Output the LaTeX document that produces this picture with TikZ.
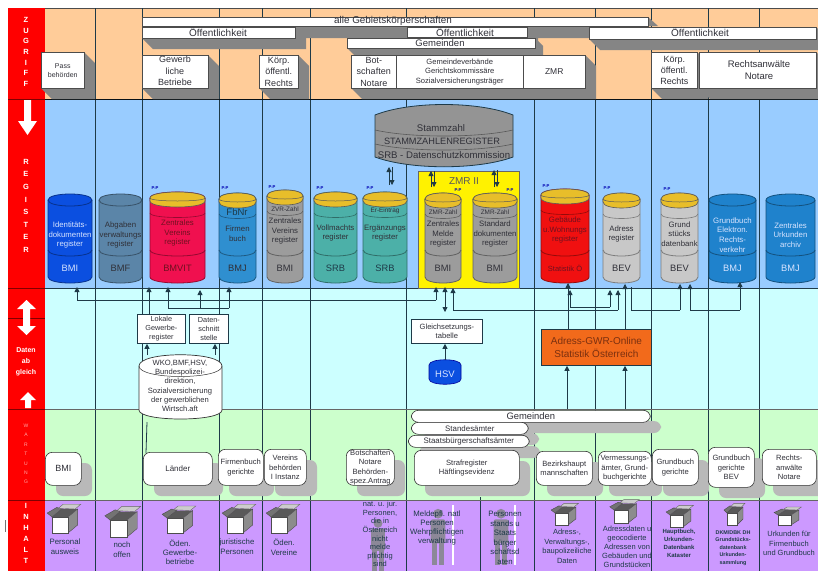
\documentclass[tikz,border=0pt]{standalone}
\usepackage{fontspec}
\setmainfont{Liberation Sans}
\usetikzlibrary{arrows.meta,shadows}
\definecolor{band1}{HTML}{FFCC99}
\definecolor{band2}{HTML}{99CCFF}
\definecolor{band3}{HTML}{CCFFFF}
\definecolor{band4}{HTML}{CCFFCC}
\definecolor{band5}{HTML}{CC99FF}
\definecolor{txt}{HTML}{303038}
\definecolor{ln}{HTML}{1E3A48}
\definecolor{gold}{HTML}{E8BE2A}
\definecolor{shad}{HTML}{B9B9B9}
\definecolor{ext}{HTML}{858585}
\definecolor{cblue}{HTML}{0B4FE0}
\definecolor{cslate}{HTML}{5B85A8}
\definecolor{ccrim}{HTML}{F0104F}
\definecolor{csky}{HTML}{2F8FD0}
\definecolor{cgrey}{HTML}{9C9C9C}
\definecolor{cteal}{HTML}{4CB0A8}
\definecolor{cred}{HTML}{F01010}
\definecolor{clight}{HTML}{C8C8C8}
\definecolor{cbj}{HTML}{1F82CC}
\definecolor{lighttxt}{HTML}{D8E4FF}
\definecolor{redtxt}{HTML}{701020}
\definecolor{orbox}{HTML}{F26A1B}
\definecolor{ortxt}{HTML}{7A3010}
\definecolor{figgrey}{HTML}{8C8898}
\newcommand{\fz}[1]{\fontsize{#1}{\fpeval{1.25*#1}}\selectfont}
\tikzset{
  fs/.style={font=\fz{#1}},
  lbl/.style={text=txt,align=center,inner sep=0pt,fs=6.2},
  colline/.style={draw=ln,line width=.8pt},
  conn/.style={draw=ln,line width=.8pt},
  arr/.style={conn,-{Triangle[length=5pt,width=5pt]}},
  darr/.style={conn,{Triangle[length=5pt,width=5pt]}-{Triangle[length=5pt,width=5pt]}},
  side/.style={text=white,align=center,inner sep=0pt,font=\fontsize{7.5}{12.6}\selectfont\bfseries},
  pp/.style={text=blue!70!black,inner sep=0pt,font=\fontsize{4.2}{5}\selectfont\bfseries},
  whitearrow/.style={fill=white,draw=none},
  plainbox/.style={draw=ln,line width=.8pt,fill=white,align=center,inner sep=0pt,text=txt,fs=7.3},
}
% raised white box with grey extrusion
\newcommand{\ebox}[7][11]{%
  \fill[ext] (#3,#6) -- (#5,#6) -- (#5,#4) -- ({#5+#1},{#4+#1}) -- ({#5+#1},{#6+#1}) -- ({#3+#1},{#6+#1}) -- cycle;
  \node[draw=black!70,line width=.5pt,fill=white,anchor=north west,minimum width={(#5-#3)*1pt},minimum height={(#6-#4)*1pt},inner sep=0pt,align=center,text=txt,font=#7] (#2) at (#3,#4) {};
}
% rounded white box with shadow
\newcommand{\rb}[6]{%
  \fill[shad,rounded corners=7pt] ({#2+11},{#3+11}) rectangle ({#4+11},{#5+11});
  \node[draw=black!80,line width=.6pt,fill=white,rounded corners=7pt,anchor=north west,minimum width={(#4-#2)*1pt},minimum height={(#5-#3)*1pt},inner sep=0pt,align=center,text=txt,font=\fontsize{7.6}{9.5}\selectfont] (#1) at (#2,#3) {#6};
}
% cylinder
\newcommand{\cyl}[9]{% name x0 x1 ytop ybot fill textcolour size text
  \pgfmathsetmacro{\cxa}{#2}\pgfmathsetmacro{\cxb}{#3}\pgfmathsetmacro{\cya}{#4}\pgfmathsetmacro{\cyb}{#5}
  \pgfmathsetmacro{\cxm}{(#2+#3)/2}
  \def\cfill{#6}
  \filldraw[fill=#6,draw=#6!62!black,line width=.8pt] (\cxa,\cya+6) .. controls (\cxa,\cya-2) and (\cxb,\cya-2) .. (\cxb,\cya+6) -- (\cxb,\cyb-6) .. controls (\cxb,\cyb+2) and (\cxa,\cyb+2) .. (\cxa,\cyb-6) -- cycle;
  \draw[draw=#6!62!black,line width=.8pt] (\cxa,\cya+6) .. controls (\cxa,\cya+14) and (\cxb,\cya+14) .. (\cxb,\cya+6);
  \draw[draw=#6!62!black,line width=.8pt] (\cxa,\cyb-33) .. controls (\cxa,\cyb-25) and (\cxb,\cyb-25) .. (\cxb,\cyb-33);
  \node[text=#7,align=center,inner sep=0pt,fs=#8] (#1) at (\cxm,\cya+41) {#9};
}
\newcommand{\org}[4][9.3]{\node[text=#3,inner sep=0pt,fs=#1] (#2) at (\cxm,\cyb-15) {#4};}
\newcommand{\capit}[1]{%
  \filldraw[fill=gold,draw=black!65,line width=.6pt] (\cxa,\cya+6) .. controls (\cxa,\cya-2) and (\cxb,\cya-2) .. (\cxb,\cya+6) -- (\cxb,\cya+9) .. controls (\cxb,\cya+17) and (\cxa,\cya+17) .. (\cxa,\cya+9) -- cycle;
  \draw[draw=black!65,line width=.5pt] (\cxa,\cya+6) .. controls (\cxa,\cya+10) and (\cxb,\cya+10) .. (\cxb,\cya+6);
  \draw[draw=\cfill!62!black,line width=.6pt] (\cxa,\cya+21) .. controls (\cxa,\cya+27) and (\cxb,\cya+27) .. (\cxb,\cya+21);
  \node[text=txt,inner sep=0pt,fs=6.4] at (\cxm,\cya+19) {#1};
}
% open box icon
\newcommand{\kiste}[4]{%
  \fill[black!65] (#1,#2) -- ({#1+#3},#2) -- ({#1+1.6*#3},{#2-.5*#4}) -- ({#1+.6*#3},{#2-.5*#4}) -- cycle;
  \filldraw[fill=black!45,draw=black!70,line width=.4pt] ({#1+#3},#2) -- ({#1+#3},{#2+#4}) -- ({#1+1.6*#3},{#2+.5*#4}) -- ({#1+1.6*#3},{#2-.5*#4}) -- cycle;
  \filldraw[fill=black!55,draw=black!70,line width=.4pt] (#1,#2) -- ({#1-.3*#3},{#2-.25*#4}) -- ({#1+.3*#3},{#2-.6*#4}) -- ({#1+.6*#3},{#2-.5*#4}) -- cycle;
  \filldraw[fill=black!20,draw=black!60,line width=.4pt] ({#1+.4*#3},{#2-.55*#4}) -- ({#1+.7*#3},{#2-.8*#4}) -- ({#1+1.8*#3},{#2-.8*#4}) -- ({#1+1.45*#3},{#2-.5*#4}) -- cycle;
  \filldraw[fill=white,draw=black!70,line width=.5pt] (#1,#2) rectangle ({#1+#3},{#2+#4});
}
% grey figure
\newcommand{\figur}[3]{%
  \fill[figgrey] (#1,{#2+.1*#3}) circle ({.085*#3});
  \fill[figgrey,rounded corners=2pt] ({#1-.13*#3},{#2+.2*#3}) rectangle ({#1+.13*#3},{#2+.62*#3});
  \fill[figgrey] ({#1-.11*#3},{#2+.6*#3}) rectangle ({#1-.015*#3},{#2+#3});
  \fill[figgrey] ({#1+.015*#3},{#2+.6*#3}) rectangle ({#1+.11*#3},{#2+#3});
}
\begin{document}
\begin{tikzpicture}[x=1pt,y=-1pt]
\useasboundingbox (0,0) rectangle (818,571);
\fill[white] (0,0) rectangle (818,571);
% bands
\fill[band1] (45,8) rectangle (818,99);
\fill[band2] (45,99) rectangle (818,288);
\fill[band3] (45,288) rectangle (818,409);
\fill[band4] (45,409) rectangle (818,500);
\fill[band5] (45,500) rectangle (818,571);
\draw[black!70,line width=.7pt] (45,8) -- (818,8);
% columns
\draw[colline] (95,8) -- (95,571);
\draw[colline] (142,8) -- (142,571);
\draw[colline] (219,8) -- (219,571);
\draw[colline] (262,8) -- (262,571);
\draw[colline] (310,8) -- (310,571);
\draw[colline] (406,8) -- (406,571);
\draw[colline] (534,8) -- (534,571);
\draw[colline] (595,8) -- (595,571);
\draw[colline] (651,8) -- (651,571);
\draw[colline] (708,8) -- (708,571);
\draw[colline] (759,8) -- (759,571);
\draw[colline] (480,497) -- (480,571);
% band dividers
\draw[black!70!ln,line width=.8pt] (45,99) -- (818,99);
\draw[ln,line width=.9pt] (45,288) -- (818,288);
\draw[black!60,line width=.8pt] (45,409) -- (818,409);
\draw[black!60,line width=.8pt] (45,500) -- (818,500);
% red side bar
\fill[red] (8,8) rectangle (45,571);
\draw[black!50!red,line width=.6pt] (8,99) -- (45,99) (8,288) -- (45,288) (8,318) -- (45,318) (8,409) -- (45,409) (8,500) -- (45,500);
\node[side,anchor=north,font=\fontsize{7.5}{10.7}\selectfont\bfseries] (sz) at (26,17) {Z\\U\\G\\R\\I\\F\\F};
\node[side,anchor=north] (sr) at (26,159) {R\\E\\G\\I\\S\\T\\E\\R};
\node[align=center,text=white,inner sep=0pt,font=\fontsize{7}{11}\selectfont\bfseries] (sd) at (26,362) {Daten\\ab\\gleich};
\node[align=center,text=red!35!white,inner sep=0pt,font=\fontsize{5}{9.4}\selectfont] (sw) at (26,454) {W\\A\\R\\T\\U\\N\\G};
\node[side,anchor=north,font=\fontsize{7.5}{11}\selectfont\bfseries] (si) at (26,503) {I\\N\\H\\A\\L\\T};
\fill[whitearrow] (24,100) -- (31,100) -- (31,121) -- (37,121) -- (27.5,135) -- (18,121) -- (24,121) -- cycle;
\fill[whitearrow] (26.5,300) -- (36,309) -- (30,309) -- (30,326) -- (36,326) -- (26.5,335) -- (17,326) -- (23,326) -- (23,309) -- (17,309) -- cycle;
\fill[whitearrow] (28,392) -- (36,400) -- (31,400) -- (31,408) -- (25,408) -- (25,400) -- (20,400) -- cycle;
\draw[black!55,line width=1pt] (5,520) -- (5,532);
% top band boxes
\fill[ext] (648,17) -- (658,26) -- (590,26) -- (590,38) -- (295,38) -- (295,26) -- (648,26) -- cycle;
\ebox[11]{bOeffA}{142}{27}{295}{38}{\fontsize{8.5}{10}\selectfont}
\ebox[11]{bOeffC}{589}{27}{816}{39}{\fontsize{8.5}{10}\selectfont}
\ebox[11]{bOeffB}{407}{27}{527}{37}{\fontsize{8.5}{10}\selectfont}
\ebox[8]{bGem}{347}{38}{535}{48}{\fontsize{8.5}{10}\selectfont}
\node[draw=black!70,line width=.5pt,fill=white,anchor=north west,minimum width=506pt,minimum height=9pt,inner sep=0pt] (bAlle) at (142,17) {};
\node[text=txt,inner sep=0pt,fs=9.9] (tAlle) at (393,20.5) {alle Gebietskörperschaften};
\node[text=txt,inner sep=0pt,fs=10] (tOa) at (218,32.5) {Öffentlichkeit};
\node[text=txt,inner sep=0pt,fs=10] (tOb) at (465,32.5) {Öffentlichkeit};
\node[text=txt,inner sep=0pt,fs=10] (tOc) at (700,32.5) {Öffentlichkeit};
\node[text=txt,inner sep=0pt,fs=9.5] (tGem) at (440,43) {Gemeinden};
\ebox[11]{bPass}{41}{52}{84}{88}{\fontsize{6}{9}\selectfont}
\ebox[11]{bGew}{142}{55}{208}{88}{\fontsize{7.5}{10}\selectfont}
\ebox[11]{bKa}{259}{55}{298}{88}{\fontsize{7.5}{10}\selectfont}
\ebox[11]{bBot}{351}{55}{396}{88}{\fontsize{7.5}{10}\selectfont}
\ebox[11]{bGv}{396}{55}{523}{88}{\fontsize{6}{8}\selectfont}
\ebox[11]{bZmr}{523}{55}{585}{88}{\fontsize{7.5}{10}\selectfont}
\ebox[11]{bKb}{651}{52}{697}{88}{\fontsize{7.5}{10}\selectfont}
\ebox[11]{bRa}{699}{52}{816}{88}{\fontsize{7.5}{10}\selectfont}
\node[lbl,fs=7] (tPass) at (bPass) {Pass\\behörden};
\node[lbl,fs=9] (tGew) at (175,71) {Gewerb\\liche\\Betriebe};
\node[lbl,fs=9] (tKa) at (bKa) {Körp.\\öffentl.\\Rechts};
\node[lbl,fs=9] (tBot) at (bBot) {Bot-\\schaften\\Notare};
\node[lbl,fs=7.6] (tGv) at (bGv) {Gemeindeverbände\\Gerichtskommissäre\\Sozialversicherungsträger};
\node[lbl,fs=8.5] (tZmr) at (bZmr) {ZMR};
\node[lbl,fs=9] (tKb) at (bKb) {Körp.\\öffentl.\\Rechts};
\node[lbl,fs=9.5] (tRa) at (759,70) {Rechtsanwälte\\Notare};
% yellow ZMR II area
\node[draw=black!60,line width=.7pt,fill=yellow,anchor=north west,minimum width=101pt,minimum height=117pt,inner sep=0pt] (zmrii) at (418,171) {};
\node[text=black!65,inner sep=0pt,fs=10] (tZmrii) at (464,181) {ZMR II};
% Stammzahl register
\filldraw[fill=black!42,draw=ln,line width=.8pt] (375,115) .. controls (410,101) and (478,101) .. (513,115) -- (513,157) .. controls (478,170) and (410,170) .. (375,157) -- cycle;
\draw[black!65,line width=.6pt] (375,130) .. controls (410,138) and (478,138) .. (513,130);
\draw[black!65,line width=.6pt] (375,144) .. controls (410,152) and (478,152) .. (513,144);
\node[text=txt,inner sep=0pt,fs=9.6] (tS1) at (441,128) {Stammzahl};
\node[text=txt,inner sep=0pt,fs=9.2] (tS2) at (442,141) {STAMMZAHLENREGISTER};
\node[text=txt,inner sep=0pt,fs=9.6] (tS3) at (444,155) {SRB - Datenschutzkommission};
% cylinders
\cyl{c1}{48}{92}{194}{283}{cblue}{lighttxt}{7.8}{Identitäts-\\dokumenten\\register}
\org{o1}{lighttxt}{BMI}
\cyl{c2}{99}{142}{194}{283}{cslate}{txt}{7.8}{Abgaben\\verwaltungs\\register}
\org{o2}{txt}{BMF}
\cyl{c3}{150}{205}{192}{283}{ccrim}{redtxt}{7.8}{Zentrales\\Vereins\\register}
\org{o3}{redtxt}{BMVIT}
\capit{}
\cyl{c4}{219}{256}{193}{283}{csky}{txt}{7.8}{Firmen\\buch}
\org{o4}{txt}{BMJ}
\capit{}
\node[text=ln,inner sep=0pt,fs=9.5] (tFb) at (237,212) {FbNr};
\cyl{c5}{267}{303}{190}{283}{cgrey}{txt}{7.8}{Zentrales\\Vereins\\register}
\org{o5}{txt}{BMI}
\capit{ZVR-Zahl}
\cyl{c6}{314}{357}{192}{283}{cteal}{txt}{7.8}{Vollmachts\\register}
\org{o6}{ln}{SRB}
\capit{}
\cyl{c7}{363}{407}{192}{283}{cteal}{txt}{7.8}{Ergänzungs\\register}
\org{o7}{ln}{SRB}
\capit{Er-Eintrag}
\cyl{c8}{425}{461}{193}{283}{cgrey}{txt}{7.8}{Zentrales\\Melde\\register}
\org{o8}{txt}{BMI}
\capit{ZMR-Zahl}
\cyl{c9}{473}{517}{193}{283}{cgrey}{txt}{7.8}{Standard\\dokumenten\\register}
\org{o9}{txt}{BMI}
\capit{ZMR-Zahl}
\cyl{c10}{541}{589}{189}{283}{cred}{redtxt}{7.8}{Gebäude\\u.Wohnungs\\register}
\org[7.5]{o10}{redtxt}{Statistik Ö}
\capit{}
\cyl{c11}{603}{640}{193}{283}{clight}{txt}{7.8}{Adress\\register}
\org{o11}{txt}{BEV}
\capit{}
\cyl{c12}{661}{698}{193}{283}{clight}{txt}{7.8}{Grund\\stücks\\datenbank}
\org{o12}{txt}{BEV}
\capit{}
\cyl{c13}{709}{756}{194}{283}{cbj}{lighttxt}{7.8}{Grundbuch\\Elektron.\\Rechts-\\verkehr}
\org{o13}{lighttxt}{BMJ}
\cyl{c14}{766}{815}{194}{283}{cbj}{lighttxt}{7.8}{Zentrales\\Urkunden\\archiv}
\org{o14}{lighttxt}{BMJ}
% P:P labels
\node[pp] (p1) at (155,188) {P:P};
\node[pp] (p2) at (225,188) {P:P};
\node[pp] (p3) at (272,187) {P:P};
\node[pp] (p4) at (320,188) {P:P};
\node[pp] (p5) at (370,188) {P:P};
\node[pp] (p6) at (458,190) {P:P};
\node[pp] (p7) at (510,190) {P:P};
\node[pp] (p8) at (546,186) {P:P};
\node[pp] (p9) at (607,188) {P:P};
\node[pp] (p10) at (667,189) {P:P};
% connector anchors
\coordinate (h1a) at (77,300); \coordinate (h1b) at (436,300);
\coordinate (t1) at (77,287); \coordinate (t2) at (436,287);
\coordinate (t3) at (200,290);
\coordinate (t4) at (168,287); \coordinate (t5) at (229,287);
\coordinate (j4) at (168,308); \coordinate (j5) at (229,308); \coordinate (j6) at (200,308);
\coordinate (t6) at (149,287);
\coordinate (g1) at (453,288); \coordinate (g2) at (453,310); \coordinate (g3) at (618,310); \coordinate (g4) at (618,290);
\coordinate (s1) at (570,290); \coordinate (s2) at (570,307); \coordinate (s3) at (610,307); \coordinate (s4) at (610,290);
\coordinate (u1) at (631,287); \coordinate (u2) at (631,310); \coordinate (u3) at (680,310); \coordinate (u4) at (680,284);
\coordinate (w1) at (690,284); \coordinate (w2) at (690,310); \coordinate (w3) at (740,310); \coordinate (w4) at (740,282);
\coordinate (r1) at (568,283); \coordinate (r2) at (625,284);
\coordinate (d1a) at (389,167); \coordinate (d1b) at (389,185);
\coordinate (d2a) at (431,171); \coordinate (d2b) at (431,187);
\coordinate (d3a) at (494,170); \coordinate (d3b) at (494,187);
\coordinate (q1) at (445,287); \coordinate (q2) at (445,312);
% boxes of the cyan band
\node[plainbox,anchor=north west,minimum width=48pt,minimum height=29pt] (lok) at (137,314) {Lokale\\Gewerbe-\\register};
\node[plainbox,anchor=north west,minimum width=39pt,minimum height=29pt] (dat) at (189,314) {Daten-\\schnitt\\stelle};
\node[plainbox,anchor=north west,minimum width=71pt,minimum height=24pt,fs=7.6] (gl) at (411,319) {Gleichsetzungs-\\tabelle};
\node[draw=ln,line width=.8pt,fill=orbox,anchor=north west,minimum width=110pt,minimum height=36pt,inner sep=0pt,align=center,text=ortxt,fs=10] (gwr) at (541,329) {Adress-GWR-Online\\Statistik Österreich};
% HSV
\filldraw[fill=cblue,draw=blue!60!black,line width=.6pt] (429,365) .. controls (429,358) and (461,358) .. (461,365) -- (461,379) .. controls (461,386) and (429,386) .. (429,379) -- cycle;
\node[text=lighttxt,inner sep=0pt,fs=9.5] (hsv) at (445,374) {HSV};
\coordinate (hsvt) at (445,360);
% connectors
\draw[conn] (h1a) -- (h1b);
\draw[arr] (h1a) -- (t1);
\draw[arr] (h1b) -- (t2);
\draw[arr] (j6) -- (t3);
\draw[arr] (j4) -- (t4);
\draw[conn] (j4) -- (j5);
\draw[arr] (j5) -- (t5);
\draw[arr] (lok.north -| t6) -- (t6);
\draw[darr] (q1) -- (q2);
\draw[arr] (hsvt) -- (gl.south -| hsvt);
\draw[arr] (g2) -- (g1);
\draw[conn] (g2) -- (g3);
\draw[arr] (g3) -- (g4);
\draw[arr] (s2) -- (s1);
\draw[conn] (s2) -- (s3);
\draw[arr] (s3) -- (s4);
\draw[arr] (gwr.north -| r1) -- (r1);
\draw[arr] (gwr.north -| r2) -- (r2);
\draw[conn] (u1) -- (u2);
\draw[conn] (u2) -- (u3);
\draw[arr] (u3) -- (u4);
\draw[arr] (w2) -- (w1);
\draw[conn] (w2) -- (w3);
\draw[arr] (w3) -- (w4);
% double arrows near Stammzahl
\draw[arr] (d1b) -- (d1a);
\draw[arr] ([xshift=3pt]d1a) -- ([xshift=3pt]d1b);
\draw[arr] (d2b) -- (d2a);
\draw[arr] ([xshift=3pt]d2a) -- ([xshift=3pt]d2b);
\draw[arr] (d3b) -- (d3a);
\draw[arr] ([xshift=3pt]d3a) -- ([xshift=3pt]d3b);
% register base cylinder (white)
\filldraw[fill=white,draw=black!80,line width=.7pt] (139,366) .. controls (139,351) and (222,351) .. (222,366) -- (222,410) .. controls (222,422) and (139,422) .. (139,410) -- cycle;
\draw[black!80,line width=.5pt] (139,366) .. controls (139,380) and (222,380) .. (222,366);
\node[lbl,font=\fontsize{7.6}{9.3}\selectfont] (wko) at (180,386) {WKO,BMF,HSV,\\Bundespolizei-\\direktion,\\Sozialversicherung\\der gewerblichen\\Wirtsch.aft};
% lines from Laender and Gemeinden
\coordinate (l1) at (147,355); \coordinate (l2) at (215,355); \coordinate (l3) at (147,422); \coordinate (l4) at (146,453);
\draw[arr] (l1) -- (lok.south -| l1);
\draw[arr] (l2) -- (dat.south -| l2);
\draw[conn] (l3) -- (l4);
% lines from green band to Adress-GWR
\coordinate (a1) at (567,409); \coordinate (a2) at (625,409);
\draw[arr] (a1) -- (gwr.south -| a1);
\draw[arr] (a2) -- (gwr.south -| a2);
% green band rounded boxes (drawn back to front)
\rb{rGem}{411}{410}{650}{422}{\fontsize{9.4}{10}\selectfont Gemeinden}
\rb{rSta}{411}{422}{528}{434}{\fontsize{7.9}{9}\selectfont Standesämter}
\rb{rStb}{408}{435}{529}{447}{\fontsize{7.9}{9}\selectfont Staatsbürgerschaftsämter}
\rb{rStr}{414}{450}{519}{485}{Strafregister\\Häftlingsevidenz}
\rb{rBmi}{45}{452}{81}{485}{\fontsize{9}{10}\selectfont BMI}
\rb{rLae}{143}{452}{212}{485}{\fontsize{8}{10}\selectfont Länder}
\rb{rFir}{218}{449}{263}{485}{Firmenbuch\\gerichte}
\rb{rVer}{264}{449}{306}{485}{Vereins\\behörden\\I Instanz}
\rb{rBot}{346}{449}{394}{485}{Botschaften\\Notare\\Behörden-\\spez.Antrag}
\rb{rBez}{536}{451}{592}{485}{Bezirkshaupt\\mannschaften}
\rb{rVm}{598}{451}{651}{485}{Vermessungs-\\ämter, Grund-\\buchgerichte}
\rb{rGb}{652}{449}{698}{485}{Grundbuch\\gerichte}
\rb{rGbb}{708}{447}{754}{487}{Grundbuch\\gerichte\\BEV}
\rb{rRa}{762}{449}{816}{485}{Rechts-\\anwälte\\Notare}
% purple band icons
\kiste{52}{517}{16}{16}
\kiste{110}{520}{17}{17}
\kiste{167}{518}{16}{15}
\kiste{227}{517}{16}{16}
\kiste{271}{517}{16}{16}
\kiste{555}{513}{13}{12}
\kiste{614}{510}{14}{13}
\kiste{670}{515}{13}{12}
\kiste{727}{513}{10}{12}
\kiste{778}{515}{13}{10}
\figur{378}{518}{53}
\figur{438}{508}{57}
\figur{501}{508}{57}
\fill[white] (452,505) rectangle (454,565);
\fill[white] (514,505) rectangle (516,565);
\node[lbl,text=ln,font=\fontsize{7.8}{10}\selectfont] (i1) at (65,547) {Personal\\ausweis};
\node[lbl,text=ln,font=\fontsize{7.8}{10}\selectfont] (i2) at (122,550) {noch\\offen};
\node[lbl,text=ln,font=\fontsize{7.8}{9}\selectfont] (i3) at (180,552) {Öden.\\Gewerbe-\\betriebe};
\node[lbl,text=ln,font=\fontsize{7.8}{10}\selectfont] (i4) at (237,547) {juristische\\Personen};
\node[lbl,text=ln,font=\fontsize{7.8}{10}\selectfont] (i5) at (284,547) {Öden.\\Vereine};
\node[lbl,text=ln,anchor=north,font=\fontsize{7.5}{8.6}\selectfont] (i6) at (380,501) {nat. u. jur.\\Personen,\\die in\\Österreich\\nicht\\melde\\pflichtig\\sind};
\node[lbl,text=ln,anchor=north,font=\fontsize{7.8}{9}\selectfont] (i7) at (437,511) {Meldepfl. natl\\Personen\\Wehrpflichtigen\\verwaltung};
\node[lbl,text=ln,anchor=north,font=\fontsize{7.8}{9.6}\selectfont] (i8) at (505,511) {Personen\\stands u\\Staats\\bürger\\schaftsd\\aten};
\node[lbl,text=ln,anchor=north,font=\fontsize{7.5}{9.5}\selectfont] (i9) at (567,529) {Adress-,\\Verwaltungs-,\\baupolizeiliche\\Daten};
\node[lbl,text=ln,anchor=north,font=\fontsize{7.5}{9}\selectfont] (i10) at (627,526) {Adressdaten u\\geocodierte\\Adressen von\\Gebäuden und\\Grundstücken};
\node[lbl,text=ln,anchor=north,font=\fontsize{6}{8}\selectfont\bfseries] (i11) at (679,529) {Hauptbuch,\\Urkunden-\\Datenbank\\Kataster};
\node[lbl,text=ln,anchor=north,font=\fontsize{5.4}{7.5}\selectfont\bfseries] (i12) at (733,530) {DKM/DBK DH\\Grundstücks-\\datenbank\\Urkunden-\\sammlung};
\node[lbl,text=ln,anchor=north,font=\fontsize{7.5}{9.5}\selectfont] (i13) at (789,531) {Urkunden für\\Firmenbuch\\und Grundbuch};
\end{tikzpicture}
\end{document}
